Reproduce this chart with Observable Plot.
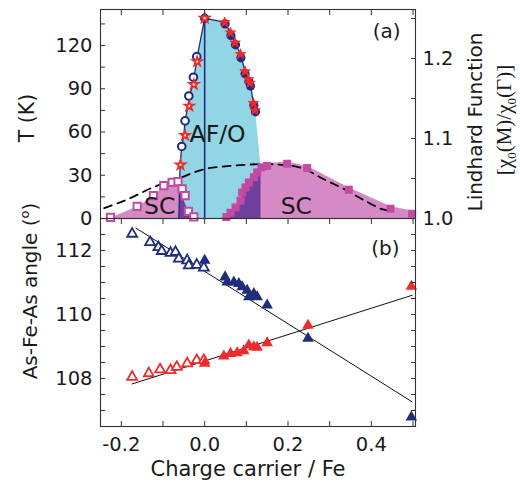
<!DOCTYPE html>
<html><head><meta charset="utf-8">
<script src="https://cdn.jsdelivr.net/npm/d3@7"></script>
<script src="https://cdn.jsdelivr.net/npm/@observablehq/plot@0.6"></script>
<style>
html,body{margin:0;padding:0;background:#fff;}
#wrap{position:relative;width:520px;height:488px;overflow:hidden;}
#wrap svg{position:absolute;left:0;overflow:visible;background:transparent;}
</style></head><body><div id="wrap"></div>
<script>
// ---------- tick values ----------
const xTicks = [-0.2, -0.1, 0, 0.1, 0.2, 0.3, 0.4, 0.5];
const xTickLabels = [-0.2, 0, 0.2, 0.4];
const tTicks = [0, 15, 30, 45, 60, 75, 90, 105, 120, 135];
const tTickLabels = [0, 30, 60, 90, 120];
const lindTicks = [1.0, 1.05, 1.1, 1.15, 1.2, 1.25];
const lindTickLabels = [1.0, 1.1, 1.2];
const angleTicks = [106.5, 107, 107.5, 108, 108.5, 109, 109.5, 110, 110.5, 111, 111.5, 112, 112.5, 113];
const angleTickLabels = [108, 110, 112];

// ---------- panel (a) data ----------
// AF/O region boundary (charge carrier, T)
const afoLeftX = [-0.062, -0.059, -0.055, -0.050, -0.047, -0.040, -0.037, -0.028, -0.026, -0.019, -0.018, 0.0];
const afoLeftT = [0, 37, 50, 58, 68, 78, 85, 93, 98, 109, 112, 139];
const afoRightX = [0.048, 0.062, 0.073, 0.086, 0.097, 0.105, 0.109, 0.117, 0.121, 0.134, 0.134];
const afoRightT = [136, 129, 122, 114, 102, 96.5, 94, 80, 75, 37, 0];

// SC domes (outline)
const scLeftX = [-0.245, -0.226, -0.162, -0.123, -0.098, -0.078, -0.064, -0.060, -0.056, -0.047, -0.034, -0.030];
const scLeftT = [0, 0.7, 8.4, 15.8, 22.8, 25.1, 26, 27.5, 17, 10, 0.7, 0];
const scRightX = [0.050, 0.062, 0.074, 0.086, 0.090, 0.098, 0.106, 0.118, 0.126, 0.134, 0.150, 0.198, 0.246, 0.346, 0.446, 0.506, 0.506];
const scRightT = [0, 4, 7.7, 12.3, 18, 21.6, 25, 28.6, 32, 37.5, 38.5, 39.5, 36.5, 21.5, 8.5, 5, 0];

// Tc squares
const sqLeftX = [-0.226, -0.162, -0.123, -0.098, -0.078, -0.064, -0.054, -0.047, -0.039, -0.026];
const sqLeftT = [0.7, 8.4, 15.8, 22.8, 25.1, 25.6, 20.5, 15.8, 4.9, 1.2];
const sqRightX = [0.052, 0.062, 0.074, 0.086, 0.090, 0.098, 0.106, 0.118, 0.126, 0.136, 0.150, 0.198, 0.246, 0.346, 0.446, 0.498];
const sqRightT = [1, 4, 7.7, 12.3, 18, 21.6, 25, 28.6, 32, 35.5, 36.5, 38, 35, 20, 6.8, 3.3];

// TN / Ts points
const circOpenX = [-0.055, -0.047, -0.038, -0.027, -0.019];
const circOpenT = [50, 67.7, 85, 98, 112.3];
const circFillX = [0, 0.049, 0.063, 0.074, 0.087, 0.097, 0.106, 0.110, 0.118, 0.122];
const circFillT = [139, 135, 127, 120.5, 111.5, 100.5, 95, 92, 78.5, 74];
const starOpenX = [-0.058, -0.047, -0.037, -0.026, -0.018, 0];
const starOpenT = [37.2, 57.7, 78, 93, 108.9, 139];
const starFillX = [0.048, 0.062, 0.073, 0.086, 0.097, 0.105, 0.109, 0.117, 0.121];
const starFillT = [136, 129, 122, 114, 102, 96.5, 94, 80, 75];

// Lindhard function chi0(M)/chi0(Gamma)
const lindX = [-0.241, -0.194, -0.114, -0.066, -0.034, 0.002, 0.046, 0.094, 0.142, 0.19, 0.238, 0.286, 0.334, 0.382, 0.43, 0.447];
const lindL = [1.013, 1.022, 1.041, 1.049, 1.056, 1.062, 1.065, 1.067, 1.068, 1.067, 1.062, 1.049, 1.037, 1.023, 1.011, 1.009];

// ---------- panel (b) data ----------
const blueOpenX = [-0.174, -0.131, -0.111, -0.103, -0.082, -0.070, -0.062, -0.042, -0.038, -0.019, -0.002];
const blueOpenA = [112.52, 112.26, 112.10, 111.98, 111.92, 111.95, 111.74, 111.69, 111.53, 111.55, 111.46];
const blueFillX = [0, 0.049, 0.054, 0.070, 0.082, 0.090, 0.102, 0.106, 0.118, 0.126, 0.150, 0.248, 0.496];
const blueFillA = [111.69, 111.17, 111.01, 111.01, 110.96, 110.86, 110.75, 110.55, 110.65, 110.55, 110.29, 109.25, 106.79];
const redOpenX = [-0.174, -0.134, -0.107, -0.082, -0.067, -0.042, -0.019, -0.002];
const redOpenA = [108.05, 108.16, 108.28, 108.26, 108.36, 108.47, 108.57, 108.57];
const redFillX = [0, 0.046, 0.062, 0.078, 0.094, 0.106, 0.118, 0.126, 0.150, 0.248, 0.496];
const redFillA = [108.47, 108.70, 108.78, 108.80, 108.86, 109.04, 108.99, 108.97, 109.11, 109.66, 110.88];
const fitBlueX = [-0.165, 0.498];
const fitBlueA = [112.7, 107.27];
const fitRedX = [-0.174, 0.498];
const fitRedA = [107.83, 110.60];

// ---------- helpers ----------
const zip = (xs, ys, k = "y") => xs.map((x, i) => ({x, [k]: ys[i]}));
const lindToT = L => (L - 1) * 555;   // right axis -> left axis units

const cyan = "#92d5e4", pink = "#d58ac5", mag = "#c24aa3", purple = "#6f3f9e";
const navy = "#1f2d7b", red = "#f02a2a", ink = "#1a1a1a";
const FONT = "DejaVu Sans";

const afoLeft = zip(afoLeftX, afoLeftT);
const afoRight = zip(afoRightX, afoRightT);
const afoPoly = afoLeft.concat(afoRight);
const afoOutline = afoLeft.concat(afoRight.filter(d => d.y > 0 && !(d.x === afoRightX[afoRightX.length - 1] && d.y < afoRightT[afoRightT.length - 3])));
const scLeft = zip(scLeftX, scLeftT);
const scRight = zip(scRightX, scRightT);
const afoXmin = afoLeftX[0], afoXmax = afoRightX[afoRightX.length - 1];
const overlapLeft = [{x: afoXmin, y: 0}].concat(scLeft.filter(d => d.x >= afoXmin));
const overlapRight = scRight.filter(d => d.x <= afoXmax).concat([{x: afoXmax, y: 0}]);

const xDomain = [-0.25, 0.506];
const blank = () => "";

const plotA = Plot.plot({
  width: 520, height: 230, marginTop: 9, marginBottom: 12, marginLeft: 100, marginRight: 105,
  x: {domain: xDomain},
  y: {domain: [0, 145]},
  style: {fontFamily: FONT, fontSize: "19.5px", color: ink, background: "transparent", overflow: "visible"},
  marks: [
    Plot.line(afoPoly, {x: "x", y: "y", fill: cyan, stroke: "none"}),
    Plot.line(scLeft, {x: "x", y: "y", fill: pink, stroke: "none"}),
    Plot.line(scRight, {x: "x", y: "y", fill: pink, stroke: "none"}),
    Plot.line(overlapLeft, {x: "x", y: "y", fill: purple, stroke: "none"}),
    Plot.line(overlapRight, {x: "x", y: "y", fill: purple, stroke: "none"}),
    Plot.line(afoOutline, {x: "x", y: "y", stroke: navy, strokeWidth: 1.3}),
    Plot.ruleX([{x: circFillX[0], y: circFillT[0]}], {x: "x", y1: 0, y2: "y", stroke: navy, strokeWidth: 1.6}),
    Plot.line(zip(lindX, lindL), {x: "x", y: d => lindToT(d.y), stroke: "#000", strokeWidth: 1.8, strokeDasharray: "8,6", curve: "monotone-x"}),
    Plot.dot(zip(sqLeftX, sqLeftT), {x: "x", y: "y", symbol: "square", r: 4.1, fill: "white", stroke: mag, strokeWidth: 2}),
    Plot.dot(zip(sqRightX, sqRightT), {x: "x", y: "y", symbol: "square", r: 4.5, fill: mag, stroke: "none"}),
    Plot.dot(zip(circOpenX, circOpenT), {x: "x", y: "y", r: 3.8, fill: "white", stroke: navy, strokeWidth: 2}),
    Plot.dot(zip(circFillX, circFillT), {x: "x", y: "y", r: 4.6, fill: navy, stroke: "none"}),
    Plot.dot(zip(starOpenX, starOpenT), {x: "x", y: "y", symbol: "star", r: 2.9, fill: "white", stroke: red, strokeWidth: 1.8}),
    Plot.dot(zip(starFillX, starFillT), {x: "x", y: "y", symbol: "star", r: 3.3, fill: red, stroke: red, strokeWidth: 0.8}),
    Plot.text([{x: 0.031, y: 58, t: "AF/O"}, {x: -0.108, y: 8.3, t: "SC"}, {x: 0.220, y: 8.3, t: "SC"}],
      {x: "x", y: "y", text: "t", fontSize: 23.5, fill: ink}),
    Plot.text(["(a)"], {frameAnchor: "top-right", dx: -15, dy: 14, fontSize: 20, fill: ink}),
    Plot.frame({stroke: "#333", strokeWidth: 1.1}),
    Plot.axisY(tTicks, {anchor: "left", tickSize: -5, tickFormat: blank, label: null, stroke: "#333"}),
    Plot.axisY(tTickLabels, {anchor: "left", tickSize: 0, tickPadding: 8, label: null, fill: ink}),
    Plot.axisY(lindTicks.map(lindToT), {anchor: "right", tickSize: -5, tickFormat: blank, label: null, stroke: "#333"}),
    Plot.axisY(lindTickLabels.map(lindToT), {anchor: "right", tickSize: 0, tickPadding: 7, label: null, fill: ink,
      tickFormat: t => lindTickLabels[lindTickLabels.map(lindToT).indexOf(t)].toFixed(1)}),
    Plot.axisX(xTicks, {anchor: "top", tickSize: -5, tickFormat: blank, label: null, stroke: "#333"})
  ]
});

const triOpen = (xs, ys, c) => Plot.dot(zip(xs, ys), {x: "x", y: "y", symbol: "triangle", r: 3.7, fill: "white", stroke: c, strokeWidth: 1.8});
const triFill = (xs, ys, c) => Plot.dot(zip(xs, ys), {x: "x", y: "y", symbol: "triangle", r: 4.3, fill: c, stroke: "none"});

const plotB = Plot.plot({
  width: 520, height: 282, marginTop: 12, marginBottom: 62, marginLeft: 100, marginRight: 105,
  x: {domain: xDomain},
  y: {domain: [106.5, 113]},
  style: {fontFamily: FONT, fontSize: "19.5px", color: ink, background: "transparent", overflow: "visible"},
  marks: [
    Plot.line(zip(fitBlueX, fitBlueA), {x: "x", y: "y", stroke: "#111", strokeWidth: 1}),
    Plot.line(zip(fitRedX, fitRedA), {x: "x", y: "y", stroke: "#111", strokeWidth: 1}),
    triOpen(blueOpenX, blueOpenA, navy),
    triFill(blueFillX, blueFillA, navy),
    triOpen(redOpenX, redOpenA, red),
    triFill(redFillX, redFillA, red),
    Plot.text(["(b)"], {frameAnchor: "top-right", dx: -16, dy: 22, fontSize: 20, fill: ink}),
    Plot.frame({stroke: "#333", strokeWidth: 1.1}),
    Plot.axisY(angleTicks, {anchor: "left", tickSize: -5, tickFormat: blank, label: null, stroke: "#333"}),
    Plot.axisY(angleTickLabels, {anchor: "left", tickSize: 0, tickPadding: 8, label: null, fill: ink}),
    Plot.axisY(angleTicks, {anchor: "right", tickSize: -5, tickFormat: blank, label: null, stroke: "#333"}),
    Plot.axisX(xTicks, {anchor: "top", tickSize: -5, tickFormat: blank, label: null, stroke: "#333"}),
    Plot.axisX(xTicks, {anchor: "bottom", tickSize: -5, tickFormat: blank, label: null, stroke: "#333"}),
    Plot.axisX(xTickLabels, {anchor: "bottom", tickSize: 0, tickPadding: 11, label: null, fill: ink, tickFormat: d => d.toFixed(1)})
  ]
});

const wrap = document.getElementById("wrap");
plotA.style.top = "0px";
plotB.style.top = "206px";
wrap.appendChild(plotA);
wrap.appendChild(plotB);

// ---------- axis titles ----------
const ov = d3.select(wrap).append("svg").attr("width", 520).attr("height", 488).style("top", "0px")
  .attr("font-family", FONT).attr("fill", ink);
ov.append("text").attr("transform", "translate(34,118) rotate(-90)").attr("text-anchor", "middle")
  .attr("font-size", 20.5).text("T (K)");
const t2 = ov.append("text").attr("transform", "translate(37,291) rotate(-90)").attr("text-anchor", "middle")
  .attr("font-size", 20);
t2.append("tspan").text("As-Fe-As angle (");
t2.append("tspan").attr("font-size", 13).attr("dy", -8).text("o");
t2.append("tspan").attr("dy", 8).text(")");
ov.append("text").attr("transform", "translate(482,122) rotate(-90)").attr("text-anchor", "middle")
  .attr("font-size", 20).text("Lindhard Function");
const t4 = ov.append("text").attr("transform", "translate(511,120) rotate(-90)").attr("text-anchor", "middle")
  .attr("font-family", "Liberation Serif").attr("font-size", 21);
t4.append("tspan").text("[χ");
t4.append("tspan").attr("font-size", 13).attr("dy", 5).text("0");
t4.append("tspan").attr("dy", -5).text("(M)/χ");
t4.append("tspan").attr("font-size", 13).attr("dy", 5).text("0");
t4.append("tspan").attr("dy", -5).text("(Γ)]");
ov.append("text").attr("x", 248).attr("y", 476).attr("text-anchor", "middle")
  .attr("font-size", 21).text("Charge carrier / Fe");
</script></body></html>
